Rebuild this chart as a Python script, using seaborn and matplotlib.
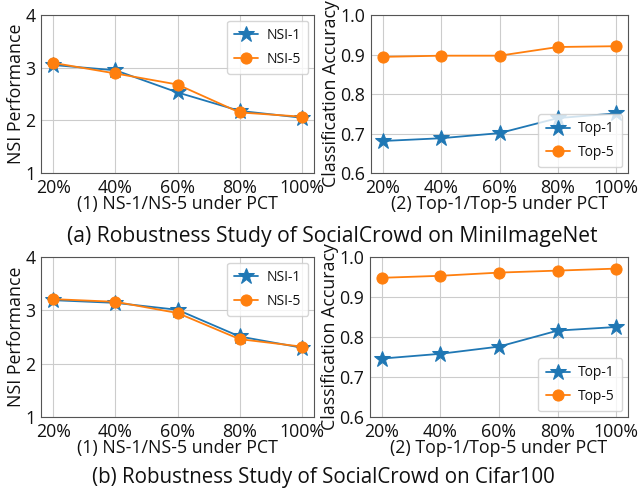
import numpy as np
import pandas as pd
import matplotlib
matplotlib.use("Agg")
import matplotlib.pyplot as plt
import seaborn as sns

# data
pct = ["20%", "40%", "60%", "80%", "100%"]

mini_nsi1 = [3.05, 2.95, 2.53, 2.18, 2.05]
mini_nsi5 = [3.09, 2.89, 2.68, 2.15, 2.07]
mini_top1 = [0.681, 0.688, 0.701, 0.739, 0.751]
mini_top5 = [0.894, 0.897, 0.897, 0.919, 0.921]

cifar_nsi1 = [3.19, 3.14, 3.01, 2.51, 2.30]
cifar_nsi5 = [3.21, 3.16, 2.95, 2.46, 2.32]
cifar_top1 = [0.746, 0.758, 0.776, 0.816, 0.825]
cifar_top5 = [0.948, 0.953, 0.961, 0.966, 0.971]

sns.set_style("whitegrid", {"axes.edgecolor": "#555555", "grid.color": "#cccccc",
                            "text.color": "#111111", "axes.labelcolor": "#111111",
                            "xtick.color": "#111111", "ytick.color": "#111111"})
plt.rcParams['font.family'] = ['Open Sans', 'DejaVu Sans']

blue = "#1f77b4"
orange = "#ff7f0e"

fig = plt.figure(figsize=(6.4, 4.94), dpi=100)
W, H = 640, 494


def make_ax(l, t, r, b):
    return fig.add_axes([l / W, 1 - b / H, (r - l) / W, (b - t) / H])


def draw(ax, s1, s2, labels, ylim, yticks, ylabel, xlabel, loc):
    x = np.arange(len(pct))
    sns.lineplot(x=x, y=s1, ax=ax, color=blue, marker="*", markersize=12,
                 markeredgecolor=blue, linewidth=1.3, label=labels[0])
    sns.lineplot(x=x, y=s2, ax=ax, color=orange, marker="o", markersize=8,
                 markeredgecolor=orange, linewidth=1.3, label=labels[1])
    ax.set_xlim(-0.2, 4.2)
    ax.set_ylim(*ylim)
    ax.set_xticks(x)
    ax.set_xticklabels(pct)
    ax.set_yticks(yticks)
    ax.tick_params(labelsize=12.8, pad=1, length=3, color="#555555")
    ax.set_ylabel(ylabel, fontsize=12.8, labelpad=0)
    ax.set_xlabel(xlabel, fontsize=12.8, labelpad=-1)
    ax.legend(loc=loc, fontsize=10, frameon=True, borderpad=0.55,
              handlelength=1.7, handletextpad=0.6, labelspacing=0.6,
              borderaxespad=0.4)


ax1 = make_ax(41, 15, 314, 173)
draw(ax1, mini_nsi1, mini_nsi5, ["NSI-1", "NSI-5"], (1, 4), [1, 2, 3, 4],
     "NSI Performance", "(1) NS-1/NS-5 under PCT", "upper right")
ax2 = make_ax(371, 15, 628, 173)
draw(ax2, mini_top1, mini_top5, ["Top-1", "Top-5"], (0.6, 1.0),
     [0.6, 0.7, 0.8, 0.9, 1.0], "Classification Accuracy",
     "(2) Top-1/Top-5 under PCT", "lower right")
ax2.set_yticklabels(["0.6", "0.7", "0.8", "0.9", "1.0"])

ax3 = make_ax(41, 257, 314, 417)
draw(ax3, cifar_nsi1, cifar_nsi5, ["NSI-1", "NSI-5"], (1, 4), [1, 2, 3, 4],
     "NSI Performance", "(1) NS-1/NS-5 under PCT", "upper right")
ax4 = make_ax(370, 257, 628, 417)
draw(ax4, cifar_top1, cifar_top5, ["Top-1", "Top-5"], (0.6, 1.0),
     [0.6, 0.7, 0.8, 0.9, 1.0], "Classification Accuracy",
     "(2) Top-1/Top-5 under PCT", "lower right")
ax4.set_yticklabels(["0.6", "0.7", "0.8", "0.9", "1.0"])

fig.text(332 / W, 1 - 236 / H, "(a) Robustness Study of SocialCrowd on MiniImageNet",
         ha="center", va="center", fontsize=15.2)
fig.text(323 / W, 1 - 477 / H, "(b) Robustness Study of SocialCrowd on Cifar100",
         ha="center", va="center", fontsize=14.8)

fig.savefig("out.png", dpi=100)
